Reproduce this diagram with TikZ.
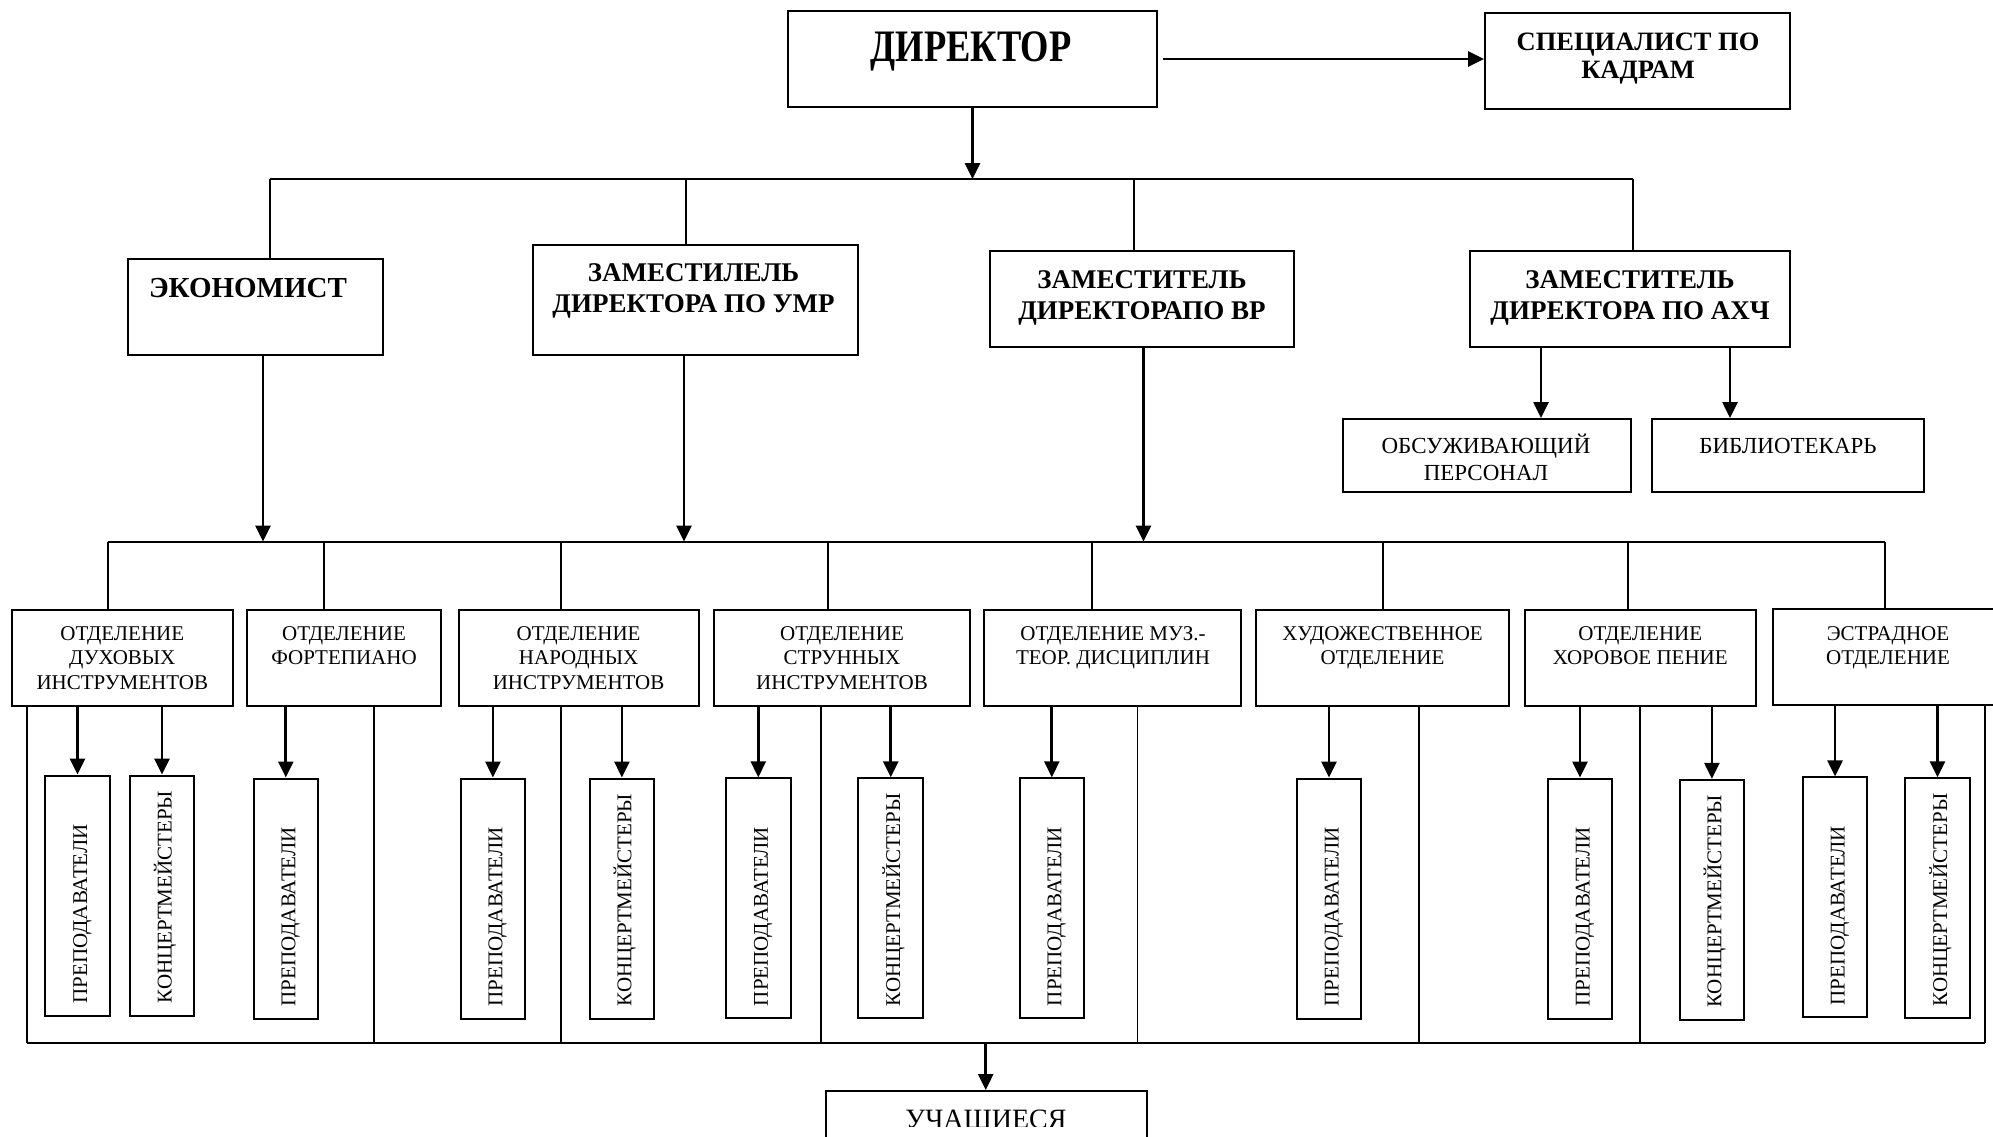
\documentclass[tikz,border=0pt]{standalone}
\usepackage{fontspec}
\setmainfont{Liberation Serif}
\usetikzlibrary{arrows.meta}
\begin{document}
\begin{tikzpicture}[x=1pt,y=-1pt,
  box/.style={draw, line width=2pt, inner sep=0pt},
  subbox/.style={draw, line width=2pt, inner sep=0pt, minimum width=64.5pt, minimum height=240pt},
  btext/.style={inner sep=0pt, anchor=north, align=center, font=\bfseries\fontsize{27}{31.5}\selectfont},
  dtext/.style={inner sep=0pt, anchor=north, align=center, font=\fontsize{21}{24.2}\selectfont},
  ntext/.style={inner sep=0pt, anchor=north, align=center, font=\fontsize{23}{27}\selectfont},
  vtext/.style={inner sep=0pt, rotate=90, anchor=west, font=\fontsize{21}{24}\selectfont, text height=14pt, text depth=4pt},
  conn/.style={line width=1.6pt},
  frame/.style={line width=1.6pt},
  arr/.style={line width=2.7pt, -{Triangle[length=16pt,width=15pt]}},
]
\clip (0,0) rectangle (1993,1136);
\fill[white] (0,0) rectangle (1993,1136);

% ---- top level
\node[box, minimum width=369pt, minimum height=96pt] (dir) at (972.5,59) {};
\node[btext, font=\bfseries\fontsize{45}{50}\selectfont] (dirT) at (971,31) {\scalebox{0.81}[1]{ДИРЕКТОР}};
\node[box, minimum width=305pt, minimum height=96pt] (spec) at (1637.5,61) {};
\node[btext, font=\bfseries\fontsize{26.5}{28}\selectfont] (specT) at (1638,33) {СПЕЦИАЛИСТ ПО\\КАДРАМ};
\draw[arr] ([xshift=5pt]dir.east) -- (dir.east -| spec.west);

\coordinate (b1) at (972.5,179);
\coordinate (b1L) at (270,179);
\coordinate (b1U) at (686,179);
\coordinate (b1V) at (1134,179);
\coordinate (b1R) at (1633,179);
\draw[arr] (dir.south) -- (b1);
\draw[line width=2pt] (b1L) -- (b1R);

% ---- second level
\node[box, minimum width=255.5pt, minimum height=96pt] (eco) at (255.25,307) {};
\node[btext, font=\bfseries\fontsize{29}{33}\selectfont] (ecoT) at (248,278.3) {ЭКОНОМИСТ};
\node[box, minimum width=325pt, minimum height=110pt] (umr) at (695.5,300) {};
\node[btext] (umrT) at (693.5,263.3) {ЗАМЕСТИЛЕЛЬ\\ДИРЕКТОРА ПО УМР};
\node[box, minimum width=304pt, minimum height=96pt] (vr) at (1142,299) {};
\node[btext] (vrT) at (1142,270) {ЗАМЕСТИТЕЛЬ\\ДИРЕКТОРАПО ВР};
\node[box, minimum width=320pt, minimum height=96pt] (axh) at (1630,299) {};
\node[btext] (axhT) at (1630,270) {ЗАМЕСТИТЕЛЬ\\ДИРЕКТОРА ПО АХЧ};

\draw[conn] (b1L) -- (b1L |- eco.north);
\draw[conn] (b1U) -- (b1U |- umr.north);
\draw[conn] (b1V) -- (b1V |- vr.north);
\draw[conn] (b1R) -- (b1R |- axh.north);

% ---- service staff
\node[box, minimum width=288.5pt, minimum height=73pt] (obs) at (1486.75,455.5) {};
\node[ntext] (obsT) at (1486,434) {ОБСУЖИВАЮЩИЙ\\ПЕРСОНАЛ};
\node[box, minimum width=272pt, minimum height=73pt] (bib) at (1788,455.5) {};
\node[ntext] (bibT) at (1788,438.4) {БИБЛИОТЕКАРЬ};
\draw[arr] ([xshift=-89pt]axh.south) -- ([xshift=-89pt]axh.south |- obs.north);
\draw[arr] ([xshift=100pt]axh.south) -- ([xshift=100pt]axh.south |- bib.north);

% ---- second bus
\coordinate (b2L) at (108,541.5);
\coordinate (b2R) at (1885,541.5);
\draw[arr] ([xshift=7.75pt]eco.south) -- ([xshift=7.75pt]eco.south |- b2L);
\draw[arr] ([xshift=-11.5pt]umr.south) -- ([xshift=-11.5pt]umr.south |- b2L);
\draw[arr] ([xshift=1.5pt]vr.south) -- ([xshift=1.5pt]vr.south |- b2L);
\draw[line width=2pt] (b2L) -- (b2R);

% ---- departments
\node[box, minimum width=220.6pt, minimum height=96pt] (d1) at (122.3,658) {};
\node[box, minimum width=194pt,   minimum height=96pt] (d2) at (344,658) {};
\node[box, minimum width=240.2pt, minimum height=96pt] (d3) at (578.6,658) {};
\node[box, minimum width=256pt,   minimum height=96pt] (d4) at (842,658) {};
\node[box, minimum width=256.6pt, minimum height=96pt] (d5) at (1112.3,658) {};
\node[box, minimum width=253pt,   minimum height=96pt] (d6) at (1382.5,658) {};
\node[box, minimum width=230.6pt, minimum height=96pt] (d7) at (1640.3,658) {};
\node[box, minimum width=230pt,   minimum height=96pt] (d8) at (1888,657.4) {};

\node[dtext] (d1T) at (122.3,626.6) {ОТДЕЛЕНИЕ\\ДУХОВЫХ\\ИНСТРУМЕНТОВ};
\node[dtext] (d2T) at (344,626.6) {ОТДЕЛЕНИЕ\\ФОРТЕПИАНО};
\node[dtext] (d3T) at (578.6,626.6) {ОТДЕЛЕНИЕ\\НАРОДНЫХ\\ИНСТРУМЕНТОВ};
\node[dtext] (d4T) at (842,626.6) {ОТДЕЛЕНИЕ\\СТРУННЫХ\\ИНСТРУМЕНТОВ};
\node[dtext] (d5T) at (1113,626.6) {ОТДЕЛЕНИЕ МУЗ.-\\ТЕОР. ДИСЦИПЛИН};
\node[dtext] (d6T) at (1382.5,626.6) {ХУДОЖЕСТВЕННОЕ\\ОТДЕЛЕНИЕ};
\node[dtext] (d7T) at (1640.3,626.6) {ОТДЕЛЕНИЕ\\ХОРОВОЕ ПЕНИЕ};
\node[dtext] (d8T) at (1888,626) {ЭСТРАДНОЕ\\ОТДЕЛЕНИЕ};

\foreach \d/\x in {d1/108, d2/324, d3/561, d4/828, d5/1092, d6/1383, d7/1628, d8/1885}{
  \draw[conn] (\x,541.5) -- (\x,541.5 |- \d.north);
}

% ---- staff boxes
\node[subbox] (p1) at (77.5,895.5) {};
\node[subbox] (k1) at (162,895.5) {};
\node[subbox] (p2) at (285.8,898.5) {};
\node[subbox] (p3) at (492.9,898.5) {};
\node[subbox] (k3) at (621.9,898.5) {};
\node[subbox] (p4) at (758.3,898.3) {};
\node[subbox] (k4) at (890.7,898.3) {};
\node[subbox] (p5) at (1051.8,898.3) {};
\node[subbox] (p6) at (1329,898.5) {};
\node[subbox] (p7) at (1580,898.5) {};
\node[subbox] (k7) at (1711.9,899.8) {};
\node[subbox] (p8) at (1835,897.4) {};
\node[subbox] (k8) at (1937.5,898.3) {};

\foreach \s/\d in {p1/d1, k1/d1, p2/d2, p3/d3, k3/d3, p4/d4, k4/d4, p5/d5, p6/d6, p7/d7, k7/d7, p8/d8, k8/d8}{
  \draw[arr] (\d.south -| \s.north) -- (\s.north);
}
\foreach \s in {p1, p2, p3, p4, p5, p6, p7, p8}{
  \node[vtext] (\s T) at ([xshift=4.5pt,yshift=13pt]\s.south) {ПРЕПОДАВАТЕЛИ};
}
\foreach \s in {k1, k3, k4, k7, k8}{
  \node[vtext] (\s T) at ([xshift=4.5pt,yshift=13pt]\s.south) {КОНЦЕРТМЕЙСТЕРЫ};
}

% ---- bottom frame
\coordinate (fL) at (27,1042.5);
\coordinate (fR) at (1985,1042.5);
\coordinate (f0) at (985.7,1042.5);
\foreach \d/\x in {d1/27, d2/374, d3/561, d4/821, d5/1137.5, d6/1419, d7/1640, d8/1985}{
  \draw[frame] (\d.south -| \x,1042.5) -- (\x,1042.5);
}
\draw[line width=2pt] (fL) -- (fR);

\node[box, minimum width=320.7pt, minimum height=90pt] (stu) at (986.35,1136) {};
\begin{scope}
  \clip (830,1095) rectangle (1142,1126);
  \node[ntext, font=\fontsize{28}{32}\selectfont] (stuT) at (986,1110) {УЧАЩИЕСЯ};
\end{scope}
\draw[arr] (f0) -- (f0 |- stu.north);
\end{tikzpicture}
\end{document}
